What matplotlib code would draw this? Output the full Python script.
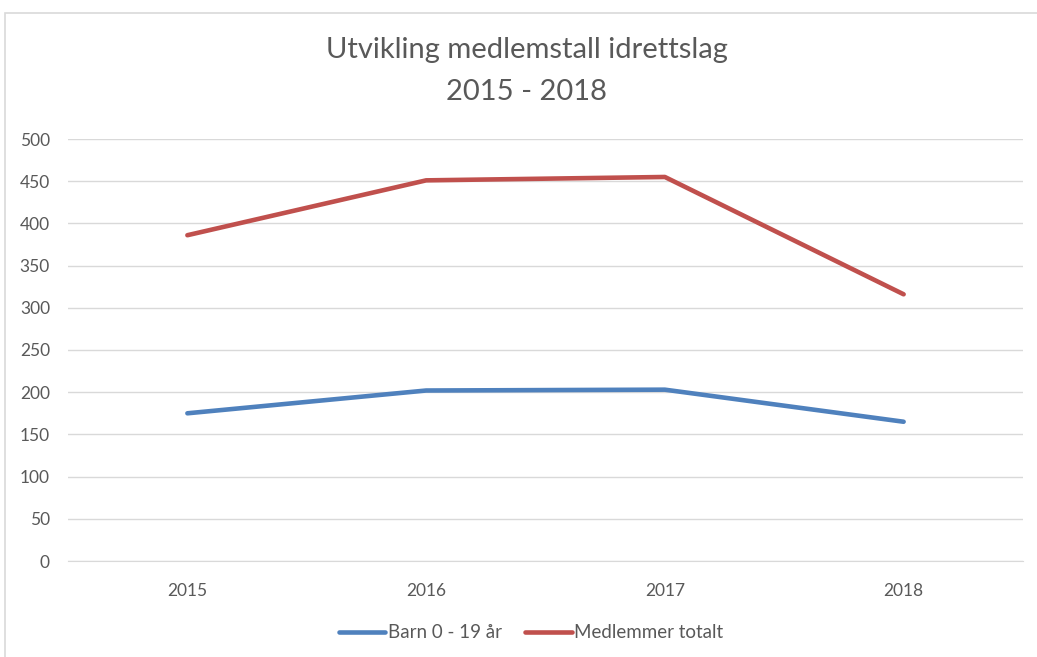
import matplotlib.pyplot as plt
from matplotlib.patches import Rectangle

years = ["2015", "2016", "2017", "2018"]
barn = [175, 202, 203, 165]
totalt = [386, 451, 455, 316]
yticks = [0, 50, 100, 150, 200, 250, 300, 350, 400, 450, 500]

plt.rcParams['font.family'] = ['Lato', 'DejaVu Sans']

fig = plt.figure(figsize=(10.37, 6.57), dpi=100)
# chart area border (light gray)
fig.patches.append(Rectangle((5 / 1037, -0.01), 1.1, 1 - 13 / 657 + 0.01,
                             transform=fig.transFigure, fill=False,
                             edgecolor='#D9D9D9', lw=1.2))

ax = fig.add_axes([68 / 1037, 1 - 561 / 657, (1023 - 68) / 1037, (561 - 139) / 657])
x = range(len(years))
ax.plot(x, barn, color='#4F81BD', lw=3.3, solid_capstyle='round', label='Barn 0 - 19 år')
ax.plot(x, totalt, color='#C0504D', lw=3.3, solid_capstyle='round', label='Medlemmer totalt')

ax.set_xlim(-0.5, len(years) - 0.5)
ax.set_ylim(0, 500)
ax.set_yticks(yticks)
ax.set_xticks(list(x))
ax.set_xticklabels(years)
ax.grid(axis='y', color='#D9D9D9', lw=1)
ax.set_axisbelow(True)
for s in ['top', 'right', 'left']:
    ax.spines[s].set_visible(False)
ax.spines['bottom'].set_color('#D9D9D9')
ax.tick_params(length=0, colors='#595959', labelsize=12.5)
ax.tick_params(axis='x', pad=16)
ax.tick_params(axis='y', pad=13)

fig.text(527 / 1037, 1 - 50 / 657, "Utvikling medlemstall idrettslag", ha='center', va='center',
         fontsize=21, color='#595959')
fig.text(527 / 1037, 1 - 92 / 657, "2015 - 2018", ha='center', va='center',
         fontsize=21, color='#595959')

fig.legend(loc='center', bbox_to_anchor=(531 / 1037, 1 - 633 / 657), ncol=2, frameon=False,
           fontsize=13.5, labelcolor='#595959', handlelength=2.5, handletextpad=0.15,
           columnspacing=1.2)

fig.savefig('out.png', dpi=100)
